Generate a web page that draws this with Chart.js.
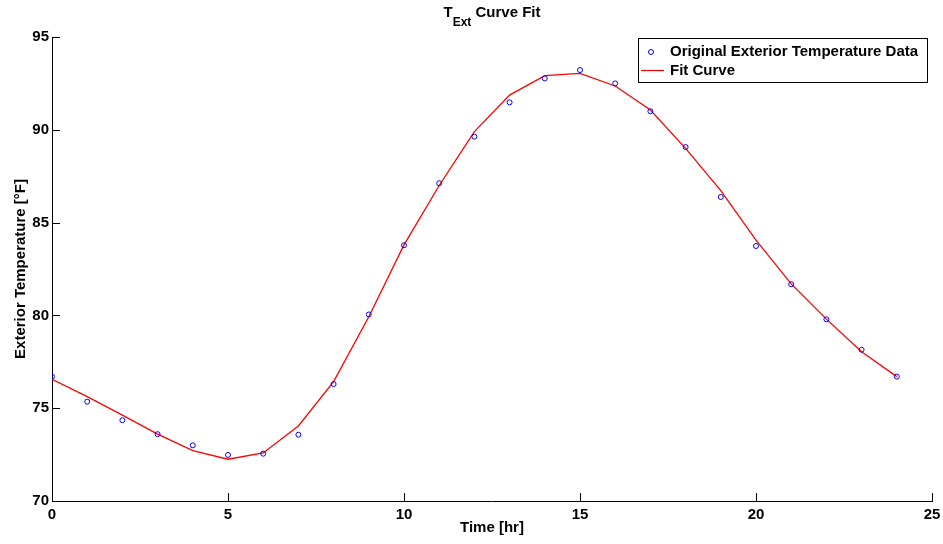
<!DOCTYPE html>
<html lang="en">
<head>
<meta charset="UTF-8" />
<title>TExt Curve Fit</title>
<script src="https://cdn.jsdelivr.net/npm/chart.js"></script>
<style>
    body { margin: 0; background: #fff; }
    #wrap { width: 943px; height: 544px; }
</style>
</head>
<body>
<div id="wrap"><canvas id="fitChart"></canvas></div>
<script>
    // hours of the day
    const hours = [0, 1, 2, 3, 4, 5, 6, 7, 8, 9, 10, 11, 12, 13, 14, 15, 16, 17, 18, 19, 20, 21, 22, 23, 24];
    // measured exterior temperature, degF
    const tempData = [76.7, 75.35, 74.35, 73.6, 73.0, 72.48, 72.55, 73.57, 76.3, 80.05, 83.78, 87.12, 89.63, 91.48, 92.77, 93.22, 92.5, 91.0, 89.07, 86.38, 83.74, 81.68, 79.79, 78.15, 76.7];
    // fitted curve
    const fitCurve = [76.56, 75.62, 74.63, 73.6, 72.71, 72.25, 72.59, 74.04, 76.43, 79.93, 83.8, 87.0, 89.9, 91.87, 92.92, 93.04, 92.36, 91.07, 89.0, 86.72, 84.06, 81.7, 79.8, 78.04, 76.7];
    const xTicks = [0, 5, 10, 15, 20, 25];
    const yTicks = [70, 75, 80, 85, 90, 95];

    const FONT = 'Liberation Sans, Arial, sans-serif';

    // MATLAB-ish extras: inward ticks, subscript title, boxed legend
    const matlabDecor = {
        id: 'matlabDecor',
        afterDraw(chart) {
            const ctx = chart.ctx;
            const area = chart.chartArea;
            const xs = chart.scales.x, ys = chart.scales.y;
            ctx.save();
            ctx.strokeStyle = '#000';
            ctx.lineWidth = 1;
            ctx.beginPath();
            xTicks.forEach(v => {
                const px = Math.round(xs.getPixelForValue(v)) + 0.5;
                ctx.moveTo(px, area.bottom);
                ctx.lineTo(px, area.bottom - 8);
            });
            yTicks.forEach(v => {
                const py = Math.round(ys.getPixelForValue(v)) + 0.5;
                ctx.moveTo(area.left, py);
                ctx.lineTo(area.left + 8, py);
            });
            ctx.stroke();

            // title with subscript
            ctx.fillStyle = '#000';
            ctx.textBaseline = 'alphabetic';
            const big = 'bold 15px ' + FONT, small = 'bold 12px ' + FONT;
            ctx.font = big;
            const wT = ctx.measureText('T').width;
            const wRest = ctx.measureText(' Curve Fit').width;
            ctx.font = small;
            const wSub = ctx.measureText('Ext').width;
            let tx = (area.left + area.right) / 2 - (wT + wSub + wRest) / 2;
            ctx.textAlign = 'left';
            ctx.font = big;
            ctx.fillText('T', tx, 17);
            ctx.font = small;
            ctx.fillText('Ext', tx + wT, 26);
            ctx.font = big;
            ctx.fillText(' Curve Fit', tx + wT + wSub, 17);

            // legend
            const bx = 638.5, by = 38.5, bw = 289, bh = 44;
            ctx.fillStyle = '#fff';
            ctx.fillRect(bx, by, bw, bh);
            ctx.strokeStyle = '#000';
            ctx.strokeRect(bx, by, bw, bh);
            ctx.strokeStyle = '#0000ff';
            ctx.beginPath();
            ctx.arc(651, 52, 2.5, 0, Math.PI * 2);
            ctx.stroke();
            ctx.strokeStyle = '#ff0000';
            ctx.lineWidth = 1.2;
            ctx.beginPath();
            ctx.moveTo(641, 70.5);
            ctx.lineTo(664, 70.5);
            ctx.stroke();
            ctx.fillStyle = '#000';
            ctx.font = 'bold 15px ' + FONT;
            ctx.textBaseline = 'middle';
            ctx.fillText('Original Exterior Temperature Data', 670, 52);
            ctx.fillText('Fit Curve', 670, 71);
            ctx.restore();
        }
    };

    new Chart(document.getElementById('fitChart'), {
        type: 'scatter',
        data: {
            datasets: [
                {
                    label: 'Original Exterior Temperature Data',
                    data: hours.map((h, i) => ({ x: h, y: tempData[i] })),
                    showLine: false,
                    pointStyle: 'circle',
                    pointRadius: 2.5,
                    pointBorderWidth: 1,
                    pointBorderColor: '#0000ff',
                    pointBackgroundColor: 'rgba(0,0,0,0)',
                    order: 1
                },
                {
                    label: 'Fit Curve',
                    data: hours.map((h, i) => ({ x: h, y: fitCurve[i] })),
                    showLine: true,
                    borderColor: '#ff0000',
                    borderWidth: 1.3,
                    pointRadius: 0,
                    tension: 0,
                    order: 2
                }
            ]
        },
        options: {
            responsive: true,
            maintainAspectRatio: false,
            animation: false,
            layout: { padding: { top: 37, right: 11, left: 0, bottom: 0 } },
            plugins: {
                legend: { display: false },
                title: { display: false },
                tooltip: { enabled: false }
            },
            scales: {
                x: {
                    type: 'linear',
                    min: 0,
                    max: 25,
                    afterBuildTicks: s => { s.ticks = xTicks.map(v => ({ value: v })); },
                    afterFit: s => { s.height = 43; s.paddingLeft = 0; s.paddingRight = 0; },
                    grid: { display: false, drawTicks: false },
                    border: { display: true, color: '#000', width: 1 },
                    ticks: { color: '#000', padding: 5, font: { family: FONT, size: 15, weight: 'bold' } },
                    title: {
                        display: true,
                        text: 'Time [hr]',
                        color: '#000',
                        padding: { top: 0, bottom: 7 },
                        font: { family: FONT, size: 15, weight: 'bold' }
                    }
                },
                y: {
                    min: 70,
                    max: 95,
                    afterBuildTicks: s => { s.ticks = yTicks.map(v => ({ value: v })); },
                    afterFit: s => { s.width = 52; },
                    grid: { display: false, drawTicks: false },
                    border: { display: true, color: '#000', width: 1 },
                    ticks: { color: '#000', padding: 3, font: { family: FONT, size: 15, weight: 'bold' } },
                    title: {
                        display: true,
                        text: 'Exterior Temperature [°F]',
                        color: '#000',
                        padding: { top: 12, bottom: 0 },
                        font: { family: FONT, size: 15, weight: 'bold' }
                    }
                }
            }
        },
        plugins: [matlabDecor]
    });
</script>
</body>
</html>
